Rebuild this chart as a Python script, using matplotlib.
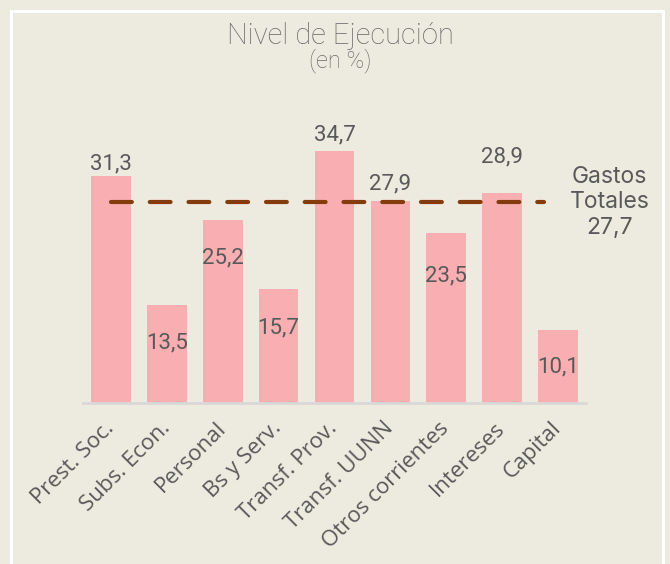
import matplotlib
matplotlib.use("Agg")
import matplotlib.pyplot as plt
from matplotlib.patches import Rectangle

categories = ["Prest. Soc.", "Subs. Econ.", "Personal", "Bs y Serv.", "Transf. Prov.",
              "Transf. UUNN", "Otros corrientes", "Intereses", "Capital"]
values = [31.3, 13.5, 25.2, 15.7, 34.7, 27.9, 23.5, 28.9, 10.1]
total_label = "Gastos\nTotales"
total_value = 27.7

# label offsets (points) relative to bar top: positive above, negative inside
label_offsets = [9, -27, -27, -28, 12, 12, -31, 26, -27]

BG = "#EDEADF"
BAR = "#F9AFB2"
LINE = "#843C0C"
TXT = "#595959"

fig = plt.figure(figsize=(6.7, 5.64), dpi=100, facecolor=BG)
fig.patches.append(Rectangle((11/670, -0.1), (663-11)/670, 1.1 - 11/564,
                             transform=fig.transFigure, fill=False,
                             edgecolor="white", linewidth=2.2))

ax = fig.add_axes([83/670, (564-403)/564, 503/670, 290/564])
ax.set_facecolor(BG)
x = list(range(len(categories)))
ax.bar(x, values, width=0.71, color=BAR, zorder=2)
ax.set_xlim(-0.5, 8.5)
ax.set_ylim(0, 40)

ax.plot([0, 7.74], [total_value, total_value], color=LINE, lw=3,
        dashes=(5, 4.3), dash_capstyle="round", zorder=3)

for xi, v, off in zip(x, values, label_offsets):
    ax.annotate(f"{v:.1f}".replace(".", ","), (xi, v), xytext=(0, off),
                textcoords="offset points", ha="center", va="center",
                fontsize=16, color=TXT, family="Roboto", zorder=4)

ax.text(8.92, total_value, f"{total_label}\n{total_value:.1f}".replace(".", ","),
        ha="center", va="center", multialignment="center", fontsize=16.5,
        color=TXT, family="Inter", linespacing=1.2, clip_on=False)

for s in ["top", "right", "left"]:
    ax.spines[s].set_visible(False)
ax.spines["bottom"].set_color("#D9D9D9")
ax.spines["bottom"].set_linewidth(2)
ax.set_yticks([])
ax.set_xticks(x)
ax.set_xticklabels(categories, rotation=45, ha="right", va="center",
                   rotation_mode="anchor",
                   fontsize=16, color=TXT, family="Open Sans")
ax.tick_params(axis="x", length=0, pad=16)

fig.text(340/670, 1 - 36/564, "Nivel de Ejecución", ha="center", va="center",
         fontsize=21, color="#6B6B6B", family="Roboto", fontweight="light")
fig.text(340/670, 1 - 61/564, "(en %)", ha="center", va="center",
         fontsize=17, color="#6B6B6B", family="Roboto", fontweight="light")

fig.savefig("out.png", dpi=100, facecolor=BG)
